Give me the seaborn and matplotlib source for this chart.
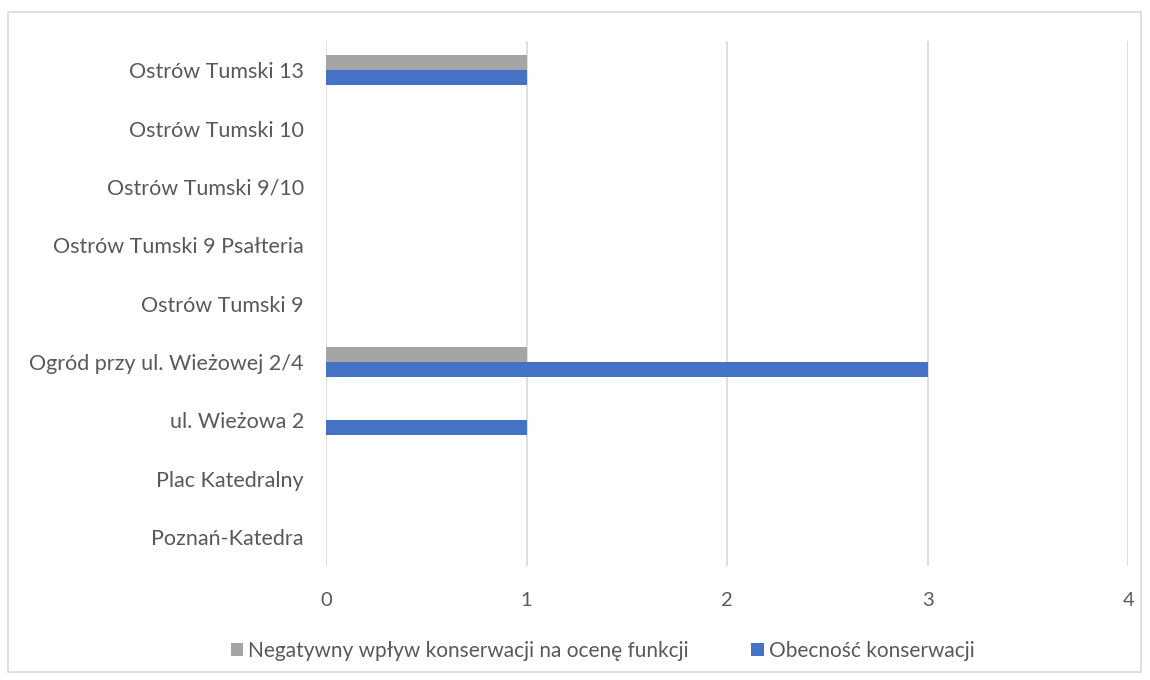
import pandas as pd
import seaborn as sns
import matplotlib.pyplot as plt
from matplotlib.patches import Rectangle

# categories listed top to bottom as they appear in the chart
places = ['Ostrów Tumski 13', 'Ostrów Tumski 10', 'Ostrów Tumski 9/10',
          'Ostrów Tumski 9 Psałteria', 'Ostrów Tumski 9',
          'Ogród przy ul. Wieżowej 2/4', 'ul. Wieżowa 2',
          'Plac Katedralny', 'Poznań-Katedra']
negatywny = [1, 0, 0, 0, 0, 1, 0, 0, 0]
obecnosc = [1, 0, 0, 0, 0, 3, 1, 0, 0]
series_names = ['Negatywny wpływ konserwacji na ocenę funkcji', 'Obecność konserwacji']
colors = ['#A5A5A5', '#4472C4']
x_ticks = [0, 1, 2, 3, 4]

df = pd.DataFrame({
    'place': places * 2,
    'value': negatywny + obecnosc,
    'series': [series_names[0]] * len(places) + [series_names[1]] * len(places),
})

sns.set_theme(style='white')
plt.rcParams['font.family'] = ['Lato', 'DejaVu Sans']

fig = plt.figure(figsize=(11.5, 6.8), dpi=100)
ax = fig.add_axes([0.2835, 0.1676, 0.6975, 0.7721])

sns.barplot(data=df, x='value', y='place', hue='series', order=places,
            hue_order=series_names, palette=colors, orient='h',
            width=0.51, saturation=1, edgecolor='none', linewidth=0, ax=ax)

ax.set_xlim(0, 4)
ax.set_xticks(x_ticks)
ax.set_ylim(len(places) - 0.5, -0.5)
ax.grid(axis='x', color='#D9D9D9', linewidth=1.2)
ax.set_axisbelow(True)
for s in ax.spines.values():
    s.set_visible(False)
ax.tick_params(axis='both', length=0, colors='#595959')
ax.tick_params(axis='x', pad=19, labelsize=14.5)
ax.tick_params(axis='y', pad=16, labelsize=15.5)
ax.set_xlabel('')
ax.set_ylabel('')

handles, labels = ax.get_legend_handles_labels()
ax.legend(handles, labels, loc='center', bbox_to_anchor=(0.345, -0.162),
          ncol=2, frameon=False, fontsize=15, handlelength=0.6, handleheight=0.6,
          handletextpad=0.25, columnspacing=3.0, labelcolor='#595959')

fig.patches.append(Rectangle((8 / 1150, 8 / 680), 1133 / 1150, 660 / 680,
                             transform=fig.transFigure, fill=False,
                             edgecolor='#D9D9D9', linewidth=1.2))

fig.savefig('out.png', dpi=100, facecolor='white')
